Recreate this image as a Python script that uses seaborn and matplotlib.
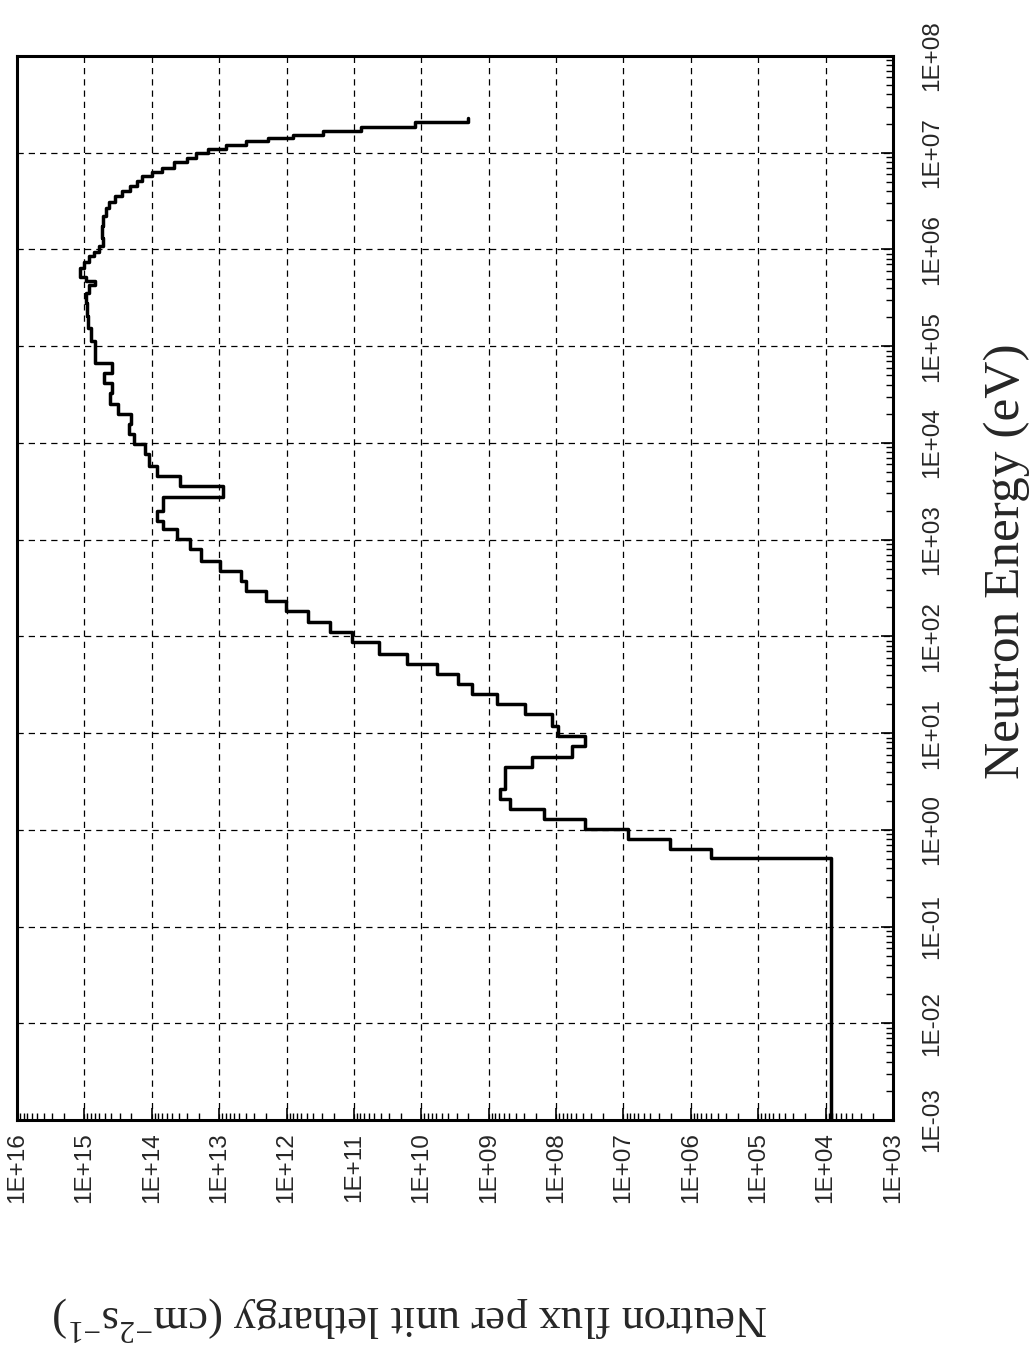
import numpy as np
import pandas as pd
import matplotlib
matplotlib.use("Agg")
import matplotlib.pyplot as plt
import seaborn as sns
from matplotlib.ticker import FixedLocator, FixedFormatter, LogLocator, NullFormatter

# ---- data: group energy boundaries (eV) and flux per unit lethargy in each group ----
energy_edges_ev = [1.0e-3, 0.513, 0.635, 0.805, 1.02, 1.30, 1.64, 2.08, 2.65, 3.41,
                   4.43, 5.71, 7.43, 9.42, 11.9, 15.7, 20.0, 25.4, 32.1, 40.8,
                   51.8, 65.6, 86.7, 110, 140, 184, 234, 297, 376, 477,
                   605, 798, 1012, 1283, 1567, 1990, 2729, 3605, 4571, 5799,
                   7590, 9700, 1.23e4, 1.56e4, 1.98e4, 2.51e4, 3.32e4, 4.21e4, 5.34e4, 6.77e4,
                   1.14e5, 1.56e5, 2.07e5, 2.82e5, 3.58e5, 4.33e5, 4.76e5, 5.24e5, 6.49e5, 7.48e5,
                   8.63e5, 9.49e5, 1.09e6, 1.32e6, 1.76e6, 2.23e6, 2.70e6, 3.12e6, 3.60e6, 4.05e6,
                   4.56e6, 5.14e6, 5.78e6, 6.36e6, 7.00e6, 8.07e6, 8.88e6, 9.84e6, 1.08e7, 1.21e7,
                   1.32e7, 1.43e7, 1.53e7, 1.69e7, 1.83e7, 2.07e7, 2.30e7]

flux_per_lethargy = [8.4e3, 5.0e5, 2.07e6, 8.55e6, 3.73e7, 1.49e8, 4.80e8, 6.74e8, 5.69e8, 5.69e8,
                     2.29e8, 5.87e7, 3.73e7, 9.46e7, 1.16e8, 2.88e8, 7.54e8, 1.77e9, 2.81e9, 5.81e9,
                     1.61e10, 4.24e10, 1.05e11, 2.25e11, 4.85e11, 1.02e12, 2.01e12, 4.06e12, 4.81e12, 9.84e12,
                     1.83e13, 2.73e13, 4.29e13, 6.75e13, 8.48e13, 6.75e13, 8.75e12, 3.84e13, 8.48e13, 1.09e14,
                     1.26e14, 1.85e14, 2.16e14, 2.05e14, 3.12e14, 4.20e14, 3.92e14, 5.06e14, 3.92e14, 6.92e14,
                     8.01e14, 8.88e14, 9.19e14, 9.50e14, 8.58e14, 7.00e14, 9.50e14, 1.15e15, 1.02e15, 8.58e14,
                     7.24e14, 6.10e14, 5.33e14, 5.51e14, 5.33e14, 4.81e14, 4.35e14, 3.54e14, 2.79e14, 2.13e14,
                     1.67e14, 1.41e14, 1.00e14, 7.15e13, 4.75e13, 3.05e13, 2.17e13, 1.44e13, 7.83e12, 3.96e12,
                     1.87e12, 8.00e11, 2.88e11, 7.91e10, 1.22e10, 2.00e9]

energy_ticks = [1e-3, 1e-2, 1e-1, 1e0, 1e1, 1e2, 1e3, 1e4, 1e5, 1e6, 1e7, 1e8]
energy_tick_labels = ["1E-03", "1E-02", "1E-01", "1E+00", "1E+01", "1E+02",
                      "1E+03", "1E+04", "1E+05", "1E+06", "1E+07", "1E+08"]
flux_ticks = [1e3, 1e4, 1e5, 1e6, 1e7, 1e8, 1e9, 1e10, 1e11, 1e12, 1e13, 1e14, 1e15, 1e16]
flux_tick_labels = ["1E+03", "1E+04", "1E+05", "1E+06", "1E+07", "1E+08", "1E+09",
                    "1E+10", "1E+11", "1E+12", "1E+13", "1E+14", "1E+15", "1E+16"]

energy_label = "Neutron Energy (eV)"
flux_label = "Neutron flux per unit lethargy (cm$^{\\mathsf{-2}}$s$^{\\mathsf{-1}}$)"

# ---- build step path (the page is rotated: energy runs upward, flux runs leftward) ----
edges = np.asarray(energy_edges_ev)
flux = np.asarray(flux_per_lethargy)
df = pd.DataFrame({
    "flux": np.repeat(flux, 2),
    "energy": np.column_stack([edges[:-1], edges[1:]]).ravel(),
})

sns.set_style("white")
plt.rcParams["font.family"] = ["Liberation Sans", "DejaVu Sans"]
plt.rcParams["mathtext.fontset"] = "custom"
plt.rcParams["mathtext.rm"] = "Liberation Serif"
plt.rcParams["mathtext.it"] = "Liberation Serif:italic"
plt.rcParams["mathtext.sf"] = "Liberation Serif"

fig = plt.figure(figsize=(10.31, 13.54), dpi=100)
W, H = 1031, 1354
left, right, top, bottom = 17, 893, 56, 1120
ax = fig.add_axes([left / W, 1 - bottom / H, (right - left) / W, (bottom - top) / H])

ax.set_xscale("log")
ax.set_yscale("log")

sns.lineplot(data=df, x="flux", y="energy", sort=False, estimator=None, ax=ax,
             color="black", linewidth=2.5, legend=False)

ax.set_xlim(1e16, 1e3)
ax.set_ylim(1e-3, 1e8)

# ticks
ax.xaxis.set_major_locator(FixedLocator(flux_ticks))
ax.xaxis.set_major_formatter(FixedFormatter(flux_tick_labels))
ax.xaxis.set_minor_locator(LogLocator(base=10, subs=np.arange(2, 10), numticks=100))
ax.xaxis.set_minor_formatter(NullFormatter())
ax.yaxis.set_major_locator(FixedLocator(energy_ticks))
ax.yaxis.set_major_formatter(FixedFormatter(energy_tick_labels))
ax.yaxis.set_minor_locator(LogLocator(base=10, subs=np.arange(2, 10), numticks=100))
ax.yaxis.set_minor_formatter(NullFormatter())

ax.yaxis.tick_right()
ax.yaxis.set_label_position("right")
ax.tick_params(axis="both", which="both", direction="in", color="black",
               bottom=True, top=False, left=False, right=True)
ax.tick_params(axis="both", which="major", length=9, width=1.2)
ax.tick_params(axis="both", which="minor", length=5, width=1.0)
ax.tick_params(axis="x", which="major", pad=9, labelsize=17.5, labelrotation=90)
ax.tick_params(axis="y", which="major", pad=20, labelsize=17.5, labelrotation=90)
for lab in ax.get_yticklabels():
    lab.set_verticalalignment("center")
    lab.set_horizontalalignment("left")

ax.grid(True, which="major", axis="both", color="black", linestyle=(0, (5, 4)), linewidth=0.9)
ax.grid(False, which="minor")

for sp in ax.spines.values():
    sp.set_visible(True)
    sp.set_color("black")
    sp.set_linewidth(2.2)

ax.set_xlabel(flux_label, family="Liberation Serif", fontsize=32, rotation=180,
              va="center", ha="center")
ax.xaxis.set_label_coords(0.449, -0.186)
ax.set_ylabel(energy_label, family="Liberation Serif", fontsize=37, rotation=90,
              va="center", ha="center")
ax.yaxis.set_label_coords(1.13, 0.525)

fig.savefig("out.png", dpi=100, facecolor="white")
